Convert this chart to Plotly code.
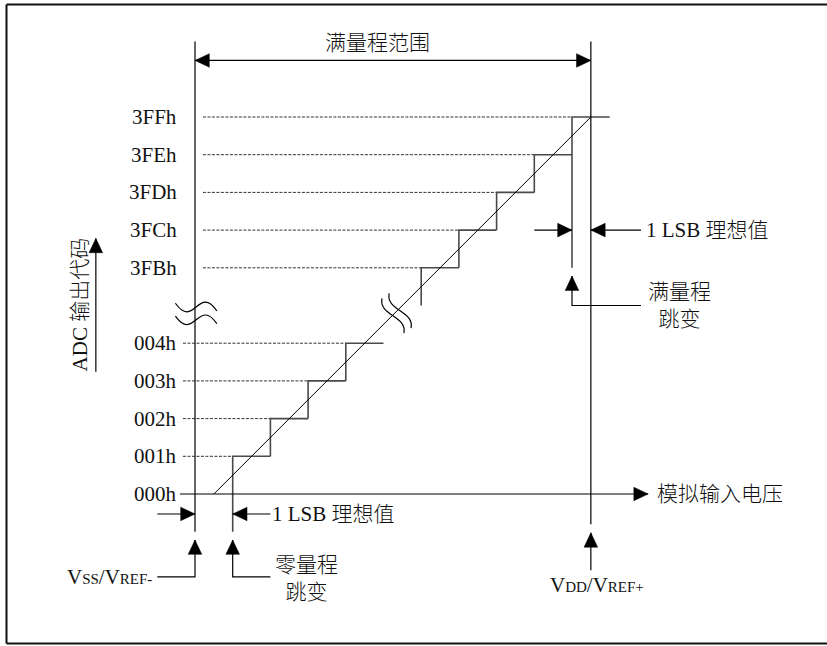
import plotly.graph_objects as go

# ADC output codes and where each one sits on the (broken) vertical axis
codes = ["000h", "001h", "002h", "003h", "004h", "3FBh", "3FCh", "3FDh", "3FEh", "3FFh"]
code_level = [0, 1, 2, 3, 4, 6, 7, 8, 9, 10]
# analog input (in LSB, broken axis) where each code starts / ends
code_start = [0, 1, 2, 3, 4, 6, 7, 8, 9, 10]
code_end = [1, 2, 3, 4, 5, 7, 8, 9, 10, 11]
# how far down each riser of the staircase is drawn
riser_bottom = [None, -1, 1, 2, 3, 5, 6, 7, 8, 6]

# ideal transfer line (half LSB offset)
ideal_x = [0.5, 10.5]
ideal_y = [0, 10]

v_ss = 0      # VSS/VREF-
v_dd = 10.5   # VDD/VREF+

FONT = "Liberation Serif, 'Noto Sans CJK SC', serif"
W, H = 827, 646
PX = 37.7                 # pixels per LSB / per code
ORIGIN = (195, 494)       # pixel position of VSS / 000h

x_range = [-ORIGIN[0] / PX, (W - ORIGIN[0]) / PX]
y_range = [(ORIGIN[1] - H) / PX, ORIGIN[1] / PX]

fig = go.Figure()


def add_line(xs, ys, color="black", width=1.2, dash=None):
    fig.add_trace(go.Scatter(x=xs, y=ys, mode="lines", hoverinfo="skip",
                             line=dict(color=color, width=width, dash=dash)))


def arrow_head(x, y, direction, length=0.38, half=0.18):
    dx, dy = {"right": (1, 0), "left": (-1, 0), "up": (0, 1), "down": (0, -1)}[direction]
    bx, by = x - dx * length, y - dy * length
    px, py = -dy * half, dx * half
    path = f"M {x},{y} L {bx + px},{by + py} L {bx - px},{by - py} Z"
    fig.add_shape(type="path", path=path, xref="x", yref="y",
                  fillcolor="black", line=dict(color="black", width=0.5))


def text(x, y, s, anchor="center", size=21, angle=0):
    fig.add_annotation(x=x, y=y, text=s, showarrow=False, xanchor=anchor,
                       yanchor="middle", textangle=angle,
                       font=dict(family=FONT, size=size, color="#111", weight=300))


# dashed guide lines from the axis to each code's tread
for lvl, x0 in zip(code_level[1:], code_start[1:]):
    start = -0.32 if lvl < 5 else 0.21
    add_line([start, x0], [lvl, lvl], color="#333", width=1, dash="3px,1.5px")

# staircase
sx, sy = [], []
for lvl, x0, x1, rb in zip(code_level[1:], code_start[1:], code_end[1:], riser_bottom[1:]):
    sx += [x0, x0, x1, None]
    sy += [rb, lvl, lvl, None]
add_line(sx, sy, color="#4a4a4a", width=1.6)

# ideal line
add_line(ideal_x, ideal_y, width=1)

top = 12.0
# VSS and VDD verticals
add_line([v_ss, v_ss], [-1.0, top])
add_line([v_dd, v_dd], [-0.8, top])

# full-scale range arrow
add_line([v_ss, v_dd], [11.5, 11.5])
arrow_head(v_ss, 11.5, "left")
arrow_head(v_dd, 11.5, "right")
text(4.85, 11.96, "满量程范围")

# x axis
add_line([-0.4, 12.02], [0, 0])
arrow_head(12.02, 0, "right")
text(12.2, 0, "模拟输入电压", anchor="left")

# code labels
for c, lvl in zip(codes, code_level):
    text(-0.42, lvl, c, anchor="right")

# 1 LSB at zero end
y_l = -0.53
add_line([v_ss - 1, v_ss], [y_l, y_l])
arrow_head(v_ss, y_l, "right")
add_line([code_start[1], code_start[1] + 1], [y_l, y_l])
arrow_head(code_start[1], y_l, "left")
text(code_start[1] + 0.98, y_l, "1 LSB 理想值", anchor="left")

# 1 LSB at full-scale end
y_u = code_level[6]
add_line([code_start[-1] - 1, code_start[-1]], [y_u, y_u])
arrow_head(code_start[-1], y_u, "right")
add_line([v_dd, 11.83], [y_u, y_u])
arrow_head(v_dd, y_u, "left")
text(11.9, y_u, "1 LSB 理想值", anchor="left")

# pointers
add_line([v_ss - 1, v_ss, v_ss], [-2.2, -2.2, -1.22])
arrow_head(v_ss, -1.22, "up")
text(-1.1, -2.2, "V<span style='font-size:15px'>SS</span>/V<span style='font-size:15px'>REF-</span>",
     anchor="right")

add_line([code_start[1] + 1, code_start[1], code_start[1]], [-2.2, -2.2, -1.22])
arrow_head(code_start[1], -1.22, "up")
text(2.97, -2.24, "零量程<br>跳变")

add_line([v_dd, v_dd], [-2.02, -1.03])
arrow_head(v_dd, -1.03, "up")
text(10.66, -2.41, "V<span style='font-size:15px'>DD</span>/V<span style='font-size:15px'>REF+</span>")

add_line([11.83, code_start[-1], code_start[-1]], [5.0, 5.0, 5.78])
arrow_head(code_start[-1], 5.78, "up")
text(12.84, 4.99, "满量程<br>跳变")

# y axis title with arrow
add_line([-2.63, -2.63], [3.24, 6.78])
arrow_head(-2.63, 6.78, "up")
text(-3.05, 5.03, "ADC 输出代码", angle=-90)


# axis-break marks
def wave_h(xc, yc, w=1.1, a=0.6, e=0.1):
    x0, x1 = xc - w / 2, xc + w / 2
    return (f"M {x0},{yc + e} C {x0 + 0.45 * w},{yc - a} "
            f"{x0 + 0.55 * w},{yc + a} {x1},{yc - e}")


def wave_v(tx, ty, bx, by, k=0.1, d=0.45):
    return f"M {tx},{ty} C {tx - k},{ty - d} {bx + k},{by + d} {bx},{by}"


for p in [wave_h(0.03, 4.96), wave_h(0.03, 4.62),
          wave_v(4.96, 5.19, 5.54, 4.27), wave_v(5.15, 5.32, 5.73, 4.40)]:
    fig.add_shape(type="path", path=p, xref="x", yref="y",
                  line=dict(color="black", width=1.2), fillcolor="rgba(0,0,0,0)")

# frame: top, left and bottom edges (the right edge is cut off in the original)
fx0, fy0, fy1 = 6.5 / W, 1 - 643.5 / H, 1 - 4.5 / H
for x0, y0, x1, y1 in [(fx0, fy1, 1, fy1), (fx0, fy0, fx0, fy1), (fx0, fy0, 1, fy0)]:
    fig.add_shape(type="line", xref="paper", yref="paper", x0=x0, y0=y0, x1=x1, y1=y1,
                  line=dict(color="#111", width=2))

fig.update_layout(
    width=W, height=H, autosize=False, showlegend=False,
    margin=dict(l=0, r=0, t=0, b=0),
    paper_bgcolor="white", plot_bgcolor="white",
    xaxis=dict(range=x_range, visible=False, fixedrange=True),
    yaxis=dict(range=y_range, visible=False, fixedrange=True),
)

# page body has an 8px default margin; drop it so the figure sits at the origin
fig.write_html("out.html", config={"displayModeBar": False},
               post_script="document.body.style.margin='0';document.body.style.overflow='hidden';")
